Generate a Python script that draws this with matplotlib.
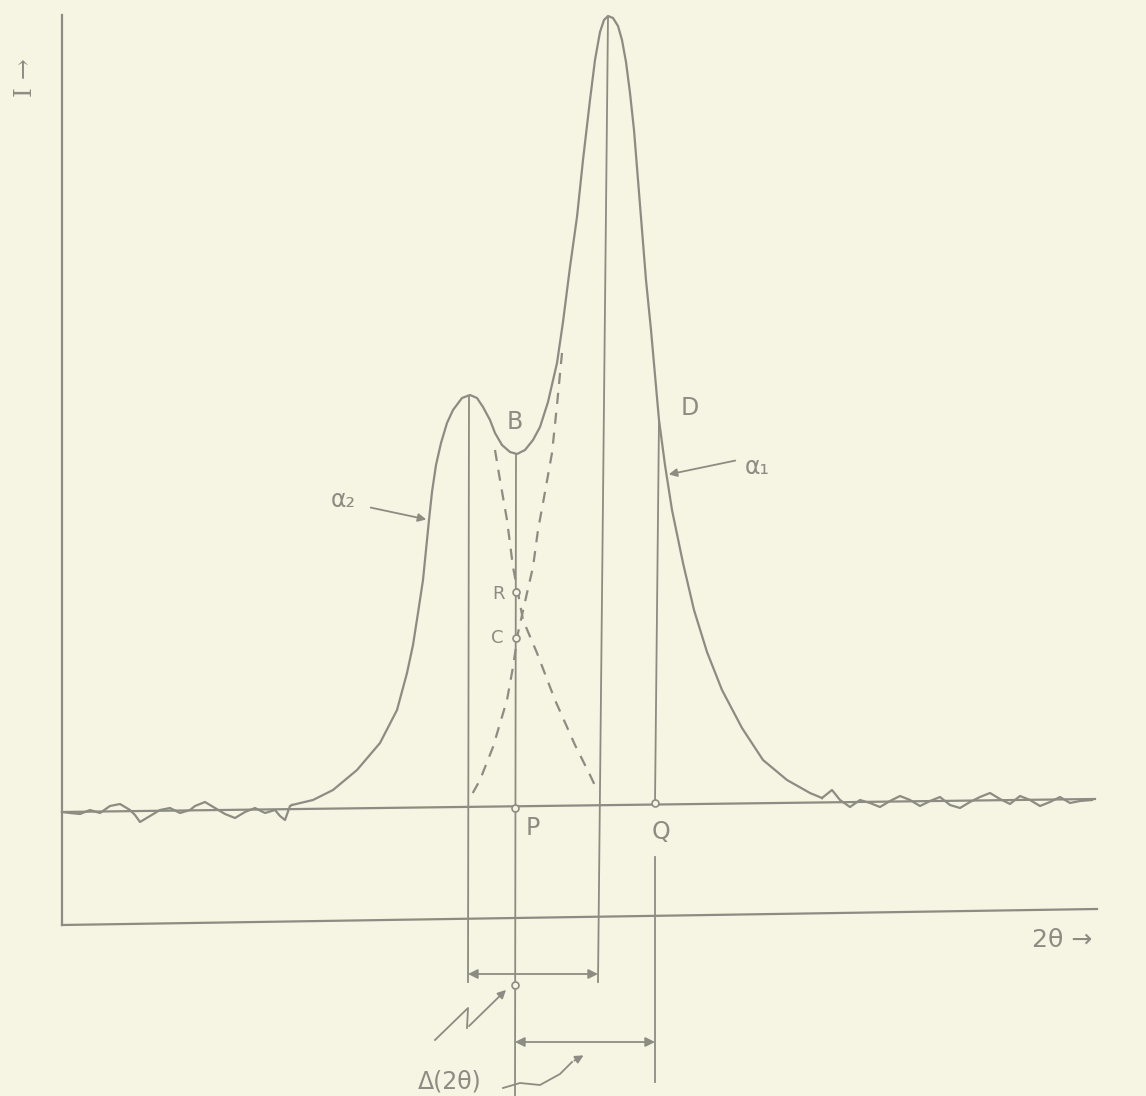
import numpy as np
import matplotlib.pyplot as plt

# sketch coordinates (pixel units of the original drawing, y grows downward)
peak_x = [292, 313, 333, 357, 380, 397, 407, 413, 418, 423, 426, 429, 432, 436,
          441, 447, 453, 462, 470, 477, 483, 490, 495, 502, 510, 517, 525, 533,
          540, 548, 557, 563, 570, 577, 583, 590, 595, 600, 604, 608, 613, 618,
          622, 626, 630, 634, 638, 642, 646, 651, 655, 659, 665, 672, 683, 694,
          707, 722, 742, 763, 787, 810, 822]
peak_y = [805, 800, 790, 770, 743, 710, 673, 645, 613, 580, 550, 520, 492, 465,
          443, 423, 410, 398, 395, 398, 407, 420, 433, 445, 452, 454, 450, 440,
          427, 402, 363, 322, 267, 217, 160, 100, 60, 32, 20, 16, 18, 26,
          40, 62, 93, 130, 180, 230, 280, 330, 375, 420, 465, 510, 563, 610,
          652, 690, 728, 760, 780, 793, 798]

noise_left_x = [62, 70, 80, 90, 100, 110, 120, 130, 135, 140, 150, 160, 170, 180,
                190, 195, 205, 215, 225, 235, 245, 255, 265, 275, 280, 285, 290, 292]
noise_left_y = [812, 813, 814, 810, 813, 806, 804, 810, 815, 822, 816, 810, 808, 813,
                810, 806, 802, 808, 814, 818, 812, 808, 813, 810, 816, 820, 806, 805]
noise_right_x = [822, 832, 840, 850, 860, 870, 880, 890, 900, 910, 920, 930, 940,
                 950, 960, 970, 980, 990, 1000, 1010, 1020, 1030, 1040, 1050, 1060,
                 1070, 1080, 1092]
noise_right_y = [798, 790, 800, 807, 800, 803, 807, 801, 796, 800, 806, 801, 797,
                 805, 808, 802, 797, 793, 799, 804, 796, 800, 806, 802, 797,
                 803, 801, 800]

# dashed resolved components
a2_x = [495, 500, 507, 513, 518, 523, 537, 555, 575, 590, 598]
a2_y = [450, 480, 520, 567, 593, 620, 653, 700, 745, 775, 792]
a1_x = [562, 557, 552, 545, 538, 533, 527, 518, 513, 507, 493, 480, 470]
a1_y = [353, 405, 453, 492, 530, 567, 593, 633, 667, 700, 747, 780, 798]

ink = "#8c8c82"
paper = "#f6f4e2"

fig = plt.figure(figsize=(11.46, 10.96), dpi=100, facecolor=paper)
ax = fig.add_axes([0, 0, 1, 1])
ax.set_facecolor(paper)
ax.set_xlim(0, 1146)
ax.set_ylim(1096, 0)
ax.axis("off")

lw = 1.6
# axes of the sketch
ax.plot([62, 62], [15, 925], color=ink, lw=lw)
ax.plot([62, 1097], [925, 909], color=ink, lw=lw)
# background line
ax.plot([62, 1095], [812, 799], color=ink, lw=lw)

ax.plot(peak_x, peak_y, color=ink, lw=lw, solid_joinstyle="round")
ax.plot(noise_left_x, noise_left_y, color=ink, lw=lw)
ax.plot(noise_right_x, noise_right_y, color=ink, lw=lw)
ax.plot(a2_x, a2_y, color=ink, lw=lw, ls=(0, (5, 4)))
ax.plot(a1_x, a1_y, color=ink, lw=lw, ls=(0, (5, 4)))

# vertical construction lines
ax.plot([469, 468], [396, 982], color=ink, lw=1.3)
ax.plot([516, 515], [454, 1096], color=ink, lw=1.3)
ax.plot([608, 598], [17, 982], color=ink, lw=1.3)
ax.plot([659, 655], [420, 803], color=ink, lw=1.3)
ax.plot([655, 655], [857, 1082], color=ink, lw=1.3)

# double arrows
arr = dict(arrowstyle="<|-|>", color=ink, lw=1.3, mutation_scale=14, shrinkA=0, shrinkB=0)
ax.annotate("", xy=(468, 974), xytext=(598, 974), arrowprops=arr)
ax.annotate("", xy=(515, 1042), xytext=(655, 1042), arrowprops=arr)

# small circles at marked points
for px, py in [(515, 808), (655, 803), (516, 592), (516, 638), (515, 985)]:
    ax.plot(px, py, "o", ms=5, mfc=paper, mec=ink, mew=1.2)

txt = dict(color=ink, fontsize=17, ha="center", va="center")
ax.text(515, 422, "B", **txt)
ax.text(690, 408, "D", **txt)
ax.text(498, 594, "R", fontsize=13, color=ink, ha="center", va="center")
ax.text(497, 638, "C", fontsize=13, color=ink, ha="center", va="center")
ax.text(533, 828, "P", **txt)
ax.text(661, 832, "Q", **txt)
ax.text(1062, 940, "2θ →", color=ink, fontsize=18, ha="center", va="center")
ax.text(26, 78, "I →", color=ink, fontsize=18, ha="center", va="center",
        rotation=90, family="DejaVu Serif")
ax.text(450, 1082, "Δ(2θ)", color=ink, fontsize=17, ha="center", va="center")

# alpha labels with pointers
ax.text(343, 500, "α₂", color=ink, fontsize=17, ha="center", va="center")
ax.annotate("", xy=(429, 520), xytext=(368, 507),
            arrowprops=dict(arrowstyle="-|>", color=ink, lw=1.3, mutation_scale=12))
ax.text(757, 467, "α₁", color=ink, fontsize=17, ha="center", va="center")
ax.annotate("", xy=(666, 475), xytext=(738, 460),
            arrowprops=dict(arrowstyle="-|>", color=ink, lw=1.3, mutation_scale=12))

# squiggle pointers to the Δ(2θ) arrows
zig1_x = [435, 468, 467, 508]
zig1_y = [1040, 1008, 1028, 988]
ax.plot(zig1_x[:-1], zig1_y[:-1], color=ink, lw=1.3)
ax.annotate("", xy=(zig1_x[-1], zig1_y[-1]), xytext=(zig1_x[-2], zig1_y[-2]),
            arrowprops=dict(arrowstyle="-|>", color=ink, lw=1.3, mutation_scale=12))
zig2_x = [503, 520, 540, 560, 572, 586]
zig2_y = [1088, 1083, 1085, 1074, 1062, 1054]
ax.plot(zig2_x[:-1], zig2_y[:-1], color=ink, lw=1.3)
ax.annotate("", xy=(zig2_x[-1], zig2_y[-1]), xytext=(zig2_x[-2], zig2_y[-2]),
            arrowprops=dict(arrowstyle="-|>", color=ink, lw=1.3, mutation_scale=12))

fig.savefig("out.png", dpi=100, facecolor=paper)
